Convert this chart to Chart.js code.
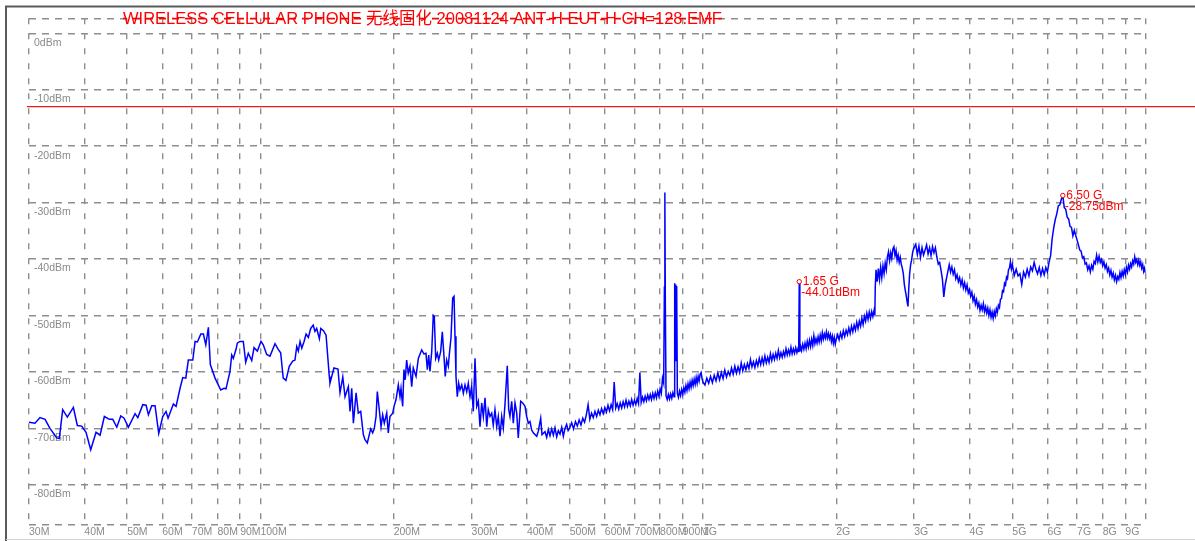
<!DOCTYPE html>
<html>
<head>
<meta charset="utf-8">
<title>EMF spectrum</title>
<script src="https://cdn.jsdelivr.net/npm/chart.js@4.4.1/dist/chart.umd.min.js"></script>
<style>
  html, body { margin: 0; padding: 0; background: #ffffff; }
  canvas { display: block; }
</style>
</head>
<body>
<canvas id="spectrum" width="1195" height="541"></canvas>
<script>
// ---- Header text -----------------------------------------------------------
const titleText = 'WIRELESS CELLULAR PHONE 无线固化 20081124 ANT-H EUT-H CH=128.EMF';

// ---- Axis ticks ------------------------------------------------------------
const freqTicksMHz = [30, 40, 50, 60, 70, 80, 90, 100, 200, 300, 400, 500, 600, 700, 800, 900,
                      1000, 2000, 3000, 4000, 5000, 6000, 7000, 8000, 9000, 10000];
const freqTickLabels = ['30M', '40M', '50M', '60M', '70M', '80M', '90M', '100M', '200M', '300M',
                        '400M', '500M', '600M', '700M', '800M', '900M', '1G', '2G', '3G', '4G',
                        '5G', '6G', '7G', '8G', '9G', ''];
const levelTicks = [0, -10, -20, -30, -40, -50, -60, -70, -80];
const levelTickLabels = ['0dBm', '-10dBm', '-20dBm', '-30dBm', '-40dBm', '-50dBm', '-60dBm', '-70dBm', '-80dBm'];
const levelTop = 2.65;
const levelBottom = -87;

// ---- Limit line ------------------------------------------------------------
const limitDbm = -13;

// ---- Markers ---------------------------------------------------------------
const markerFreqMHz = [1650, 6500];
const markerDbm = [-44.01, -28.75];
const markerFreqText = ['1.65 G', '6.50 G'];
const markerLevelText = ['-44.01dBm', '-28.75dBm'];

// ---- Measured trace (frequency in MHz, level in dBm) -----------------------
// 30 – 143 MHz
const segA_MHz = [30.0, 30.95, 31.77, 32.61, 33.46, 34.66, 35.12, 35.75, 36.62, 37.79,
  38.58, 39.47, 40.36, 41.36, 42.52, 43.42, 44.40, 45.57, 46.39, 47.37,
  48.36, 49.2, 50.31, 52.09, 52.84, 54.23, 55.17, 55.84, 56.82, 57.80,
  58.92, 60.16, 61.2, 61.85, 63.58, 64.48, 65.83, 66.77, 67.82, 68.74,
  70.34, 71.18, 72.04, 73.33, 74.33, 75.26, 76.28, 77.06, 78.97, 81.34,
  82.75, 83.62, 85.36, 86.13, 86.85, 88.07, 88.67, 89.92, 91.48, 92.63,
  93.9, 95.58, 96.73, 98.41, 100.3, 101.5, 103.3, 105.1, 107.9, 109.7,
  111.1, 112.6, 114.2, 116.2, 118.3, 119.7, 120.8, 121.8, 122.9, 124.0,
  125.5, 126.8, 128.3, 129.9, 131.6, 132.8, 134.0, 135.9, 136.9, 138.8,
  140.7, 143.1];
const segA_dBm = [-68.9, -69.1, -68.1, -68.4, -70.0, -71.7, -71.8, -66.7, -68.0, -66.3,
  -69.5, -69.6, -70.7, -73.8, -70.7, -71.2, -67.9, -68.4, -68.4, -69.8,
  -67.8, -68.2, -69.8, -67.4, -68.1, -65.8, -65.9, -67.6, -66.0, -66.0,
  -70.9, -67.9, -67.0, -68.2, -65.7, -66.1, -62.9, -61.0, -61.1, -57.9,
  -57.9, -54.6, -54.7, -53.3, -53.3, -55.2, -52.1, -58.7, -61.1, -63.2,
  -62.9, -63.0, -59.9, -57.0, -57.6, -56.0, -54.9, -54.6, -54.6, -58.3,
  -56.7, -58.0, -55.7, -56.3, -54.6, -55.2, -56.9, -57.2, -55.0, -56.0,
  -56.6, -61.1, -61.5, -59.0, -58.1, -57.9, -55.5, -56.3, -54.6, -55.8,
  -54.6, -53.3, -53.9, -52.3, -51.7, -52.8, -52.3, -54.1, -52.3, -52.7,
  -53.5, -60.8];

// 143 – 496 MHz
const segB_MHz = [143.6, 146.6, 149.7, 151.3, 153.5, 155.3, 158.0, 159.4, 160.8, 162.2,
  164.5, 166.4, 168.5, 170.8, 172.3, 174.4, 176.2, 177.5, 179.3, 180.8,
  182.5, 183.7, 185.6, 187.3, 188.9, 190.5, 192.9, 194.5, 196.2, 199.0,
  200.4, 202.5, 204.9, 206.7, 207.8, 209.6, 211.0, 212.4, 214.0, 215.8,
  217.7, 219.7, 221.5, 224.7, 227.4, 231.4, 234.2, 236.6, 238.3, 240.0,
  241.6, 243.8, 245.8, 247.1, 248.9, 251.0, 252.8, 255.4, 257.6, 259.9,
  261.6, 263.5, 265.8, 267.1, 269.5, 271.9, 273.8, 275.2, 276.6, 278.5,
  280.5, 282.4, 285.0, 287.4, 289.9, 292.5, 294.9, 297.5, 300.1, 302.7,
  305.4, 308.1, 310.7, 313.4, 316.2, 318.9, 321.7, 324.6, 327.2, 330.1,
  333.1, 335.8, 338.8, 341.9, 344.7, 347.8, 350.9, 353.8, 356.9, 361.2,
  363.9, 366.3, 369.6, 372.7, 376.0, 379.4, 382.5, 387.3, 391.4, 396.1,
  399.6, 403.0, 406.5, 410.1, 413.6, 421.0, 424.5, 429.8, 432.7, 439.5,
  443.4, 447.2, 451.1, 455.1, 459.0, 463.0, 467.1, 471.1, 475.2, 479.5,
  483.5, 487.7, 491.9, 495.8];
const segB_dBm = [-62.0, -59.3, -59.5, -63.7, -60.9, -64.4, -62.6, -67.0, -62.9, -69.1,
  -63.7, -67.3, -67.0, -71.1, -72.0, -72.6, -71.1, -70.1, -70.8, -70.1,
  -67.9, -63.5, -66.7, -69.7, -67.6, -69.1, -67.3, -70.8, -67.9, -67.3,
  -66.1, -64.9, -62.3, -64.4, -62.9, -66.1, -59.6, -61.4, -57.9, -60.2,
  -59.0, -62.6, -59.3, -60.8, -57.6, -56.1, -56.8, -56.7, -59.6, -57.0,
  -59.9, -56.4, -50.0, -50.2, -57.6, -56.7, -57.9, -56.4, -52.9, -57.3,
  -60.8, -57.9, -59.0, -57.0, -54.0, -46.9, -46.6, -53.7, -60.8, -64.4,
  -62.0, -63.2, -62.3, -63.8, -62.3, -63.5, -62.0, -64.4, -62.6, -67.0,
  -57.6, -66.1, -65.2, -69.7, -65.5, -67.9, -64.6, -69.7, -66.7, -67.9,
  -67.3, -69.4, -66.7, -69.7, -67.9, -71.4, -67.9, -69.9, -65.8, -58.9,
  -66.7, -67.9, -65.2, -69.1, -65.5, -67.3, -71.7, -65.2, -65.5, -66.1,
  -67.9, -69.1, -68.8, -70.3, -70.8, -71.4, -70.5, -68.2, -71.1, -70.6,
  -71.6, -70.2, -71.3, -70.1, -71.2, -69.9, -71.5, -70.4, -71.0, -69.8,
  -71.4, -70.0, -69.3, -70.4];

// 500 MHz – 1 GHz (carrier at 820 MHz, second line near 870 MHz)
const segC_MHz = [500, 505, 510, 515, 520, 525, 530, 535, 540, 545,
  550, 555, 560, 565, 570, 575, 580, 585, 590, 595,
  600, 605, 610, 615, 620, 625, 630, 635, 640, 645,
  650, 655, 660, 665, 670, 675, 680, 685, 690, 695,
  700, 705, 710, 715, 720, 725, 730, 735, 740, 745,
  750, 755, 760, 765, 770, 775, 780, 785, 790, 795,
  800, 805, 810, 815, 818, 820, 822, 825, 830, 835,
  840, 845, 850, 855, 860, 862, 864, 866, 868, 870,
  872, 875, 880, 885, 890, 895, 900, 905, 910, 915,
  920, 925, 930, 935, 940, 945, 950, 955, 960, 965,
  970, 975, 980, 985, 990, 995, 1000];
const segC_dBm = [-69.9, -69.0, -70.1, -68.8, -69.6, -68.5, -69.4, -68.2, -68.9, -67.6,
  -65.8, -68.4, -67.3, -68.1, -67.0, -67.9, -66.8, -67.6, -66.5, -67.4,
  -66.3, -67.1, -65.9, -66.9, -65.8, -66.7, -61.8, -66.4, -65.6, -66.6,
  -65.5, -66.4, -65.3, -66.2, -65.0, -66.1, -65.2, -66.0, -64.9, -65.9,
  -65.0, -65.8, -64.7, -65.6, -60.1, -65.4, -64.5, -65.3, -64.3, -65.1,
  -64.1, -64.9, -64.0, -64.9, -63.8, -64.7, -63.7, -64.6, -63.4, -64.3,
  -63.0, -63.8, -61.1, -62.0, -45.0, -28.2, -48.0, -64.2, -64.9, -64.0,
  -64.8, -63.9, -64.7, -63.7, -64.4, -63.6, -44.3, -58.0, -44.5, -57.0,
  -44.8, -63.8, -64.5, -63.4, -64.2, -63.1, -63.9, -62.8, -63.6, -62.4,
  -63.3, -62.1, -63.0, -61.8, -62.7, -61.5, -62.4, -61.3, -62.2, -61.0,
  -62.0, -60.8, -61.6, -60.4, -60.1, -61.2, -61.8];

// 1 – 2 GHz
const segD_MHz = [1010, 1020, 1030, 1040, 1050, 1060, 1070, 1080, 1090, 1100,
  1110, 1120, 1130, 1140, 1150, 1160, 1170, 1180, 1190, 1200,
  1210, 1220, 1230, 1240, 1250, 1260, 1270, 1280, 1290, 1300,
  1310, 1320, 1330, 1340, 1350, 1360, 1370, 1380, 1390, 1400,
  1410, 1420, 1430, 1440, 1450, 1460, 1470, 1480, 1490, 1500,
  1510, 1520, 1530, 1540, 1550, 1560, 1570, 1580, 1590, 1600,
  1610, 1620, 1630, 1640, 1645, 1650, 1655, 1660, 1670, 1680,
  1690, 1700, 1710, 1720, 1730, 1740, 1750, 1760, 1770, 1780,
  1790, 1800, 1810, 1820, 1830, 1840, 1850, 1860, 1870, 1880,
  1890, 1900, 1910, 1920, 1930, 1940, 1950, 1960, 1970, 1980,
  1990, 2000];
const segD_dBm = [-62.3, -61.1, -62.0, -60.8, -61.9, -60.6, -61.6, -60.2, -61.4, -60.1,
  -61.2, -59.7, -60.9, -59.9, -60.6, -59.3, -60.4, -59.0, -60.2, -59.1,
  -60.1, -58.4, -59.8, -58.7, -59.6, -58.5, -59.4, -57.8, -59.1, -58.2,
  -59.2, -58.0, -58.9, -57.6, -58.7, -57.5, -58.6, -57.2, -58.4, -57.4,
  -58.3, -56.8, -58.0, -56.9, -57.8, -56.7, -57.6, -56.2, -57.5, -56.6,
  -57.4, -56.4, -57.2, -55.9, -57.0, -56.1, -56.9, -55.6, -56.8, -55.9,
  -56.7, -55.7, -56.6, -55.8, -56.5, -44.01, -56.4, -55.3, -56.2, -55.1,
  -56.0, -54.9, -55.9, -54.6, -55.6, -54.4, -55.5, -54.2, -55.3, -53.6,
  -55.0, -54.1, -54.9, -53.8, -54.7, -53.5, -54.5, -53.1, -54.2, -53.3,
  -54.0, -52.9, -54.0, -53.2, -54.1, -53.4, -54.6, -53.7, -54.9, -53.9,
  -55.1, -54.2];

// 2 – 3 GHz
const segE_MHz = [2015, 2030, 2045, 2060, 2075, 2090, 2105, 2120, 2135, 2150,
  2165, 2180, 2195, 2210, 2225, 2240, 2255, 2270, 2285, 2300,
  2315, 2330, 2345, 2360, 2375, 2390, 2405, 2420, 2435, 2445,
  2450, 2460, 2475, 2490, 2505, 2520, 2535, 2550, 2565, 2580,
  2595, 2610, 2625, 2640, 2655, 2670, 2685, 2700, 2715, 2730,
  2745, 2760, 2775, 2790, 2805, 2820, 2835, 2850, 2865, 2880,
  2895, 2905, 2915, 2930, 2945, 2960, 2975, 2990];
const segE_dBm = [-53.4, -54.3, -53.1, -54.0, -52.7, -53.7, -52.6, -53.4, -52.2, -53.2,
  -51.9, -52.9, -51.7, -52.6, -51.2, -52.3, -51.0, -51.9, -50.5, -51.6,
  -50.1, -51.0, -49.6, -50.7, -49.4, -50.5, -49.3, -50.2, -49.1, -49.9,
  -45.0, -41.9, -44.0, -41.7, -43.6, -41.5, -43.3, -41.2, -42.6, -40.7,
  -41.9, -39.6, -38.7, -40.3, -38.9, -39.9, -38.2, -37.8, -39.4, -38.5,
  -40.2, -39.3, -40.6, -39.7, -40.9, -41.6, -42.6, -44.5, -45.6, -46.6,
  -47.8, -48.4, -45.6, -42.6, -41.0, -40.2, -38.9, -38.2];

// 3 – 5 GHz
const segF_MHz = [3000, 3025, 3050, 3075, 3100, 3125, 3150, 3175, 3200, 3225,
  3250, 3275, 3300, 3325, 3350, 3375, 3400, 3425, 3450, 3475,
  3500, 3525, 3550, 3575, 3600, 3625, 3650, 3675, 3700, 3725,
  3750, 3775, 3800, 3825, 3850, 3875, 3900, 3925, 3950, 3975,
  4000, 4025, 4050, 4075, 4100, 4125, 4150, 4175, 4200, 4225,
  4250, 4275, 4300, 4325, 4350, 4375, 4400, 4425, 4450, 4475,
  4500, 4525, 4550, 4575, 4600, 4625, 4650, 4675, 4700, 4725,
  4750, 4775, 4800, 4825, 4850, 4875, 4900, 4925, 4950, 4975,
  5000];
const segF_dBm = [-38.0, -37.4, -39.2, -37.7, -39.7, -38.0, -39.3, -38.4, -37.5, -39.1,
  -38.0, -39.4, -37.8, -38.9, -38.0, -39.6, -40.9, -40.6, -42.0, -43.6,
  -46.7, -44.6, -43.4, -42.2, -41.0, -42.3, -41.4, -42.7, -41.9, -43.5,
  -42.8, -44.0, -43.3, -44.6, -43.7, -45.1, -44.2, -45.5, -44.6, -46.0,
  -45.4, -46.6, -45.9, -47.4, -46.6, -48.0, -47.2, -48.5, -47.8, -49.1,
  -48.2, -49.0, -47.9, -49.3, -48.5, -49.6, -48.7, -50.0, -49.0, -50.3,
  -49.4, -50.5, -49.3, -50.1, -48.8, -49.4, -48.2, -48.6, -47.1, -47.0,
  -45.6, -45.8, -44.3, -44.6, -43.2, -43.5, -41.9, -41.6, -40.5, -41.8,
  -41.0];

// 5 – 10 GHz
const segG_MHz = [5050, 5100, 5150, 5200, 5250, 5300, 5350, 5400, 5450, 5500,
  5550, 5600, 5650, 5700, 5750, 5800, 5850, 5900, 5950, 6000,
  6050, 6100, 6150, 6200, 6250, 6300, 6350, 6400, 6450, 6500,
  6550, 6600, 6650, 6700, 6750, 6800, 6850, 6900, 6950, 7000,
  7050, 7100, 7150, 7200, 7250, 7300, 7350, 7400, 7450, 7500,
  7550, 7600, 7650, 7700, 7750, 7800, 7850, 7900, 7950, 8000,
  8050, 8100, 8150, 8200, 8250, 8300, 8350, 8400, 8450, 8500,
  8550, 8600, 8650, 8700, 8750, 8800, 8850, 8900, 8950, 9000,
  9050, 9100, 9150, 9200, 9250, 9300, 9350, 9400, 9450, 9500,
  9550, 9600, 9650, 9700, 9750, 9800, 9850, 9900, 9950, 10000];
const segG_dBm = [-42.9, -41.8, -43.0, -42.6, -44.5, -42.3, -43.2, -41.8, -43.0, -41.4,
  -42.1, -40.6, -41.8, -42.6, -41.5, -42.9, -41.7, -42.8, -41.5, -42.3,
  -40.6, -39.4, -36.4, -34.5, -33.0, -32.0, -30.6, -30.4, -29.4, -28.75,
  -30.9, -31.2, -32.6, -32.9, -34.2, -34.4, -35.9, -34.9, -35.8, -36.6,
  -37.5, -38.4, -38.6, -39.8, -39.6, -40.9, -40.7, -41.9, -41.2, -42.3,
  -41.1, -41.8, -40.4, -40.8, -39.3, -40.5, -39.5, -40.6, -40.1, -41.2,
  -40.5, -41.6, -41.0, -42.2, -41.6, -42.8, -42.0, -43.2, -42.5, -43.7,
  -42.9, -44.0, -43.1, -43.6, -42.4, -43.3, -42.2, -43.0, -41.9, -42.7,
  -41.5, -42.3, -41.1, -41.8, -40.8, -41.4, -40.3, -40.9, -39.6, -40.6,
  -40.1, -41.0, -40.2, -41.1, -40.5, -41.6, -41.0, -42.2, -41.6, -42.5];

// ---- Build chart data ------------------------------------------------------
const segments = [
  [segA_MHz, segA_dBm], [segB_MHz, segB_dBm], [segC_MHz, segC_dBm], [segD_MHz, segD_dBm],
  [segE_MHz, segE_dBm], [segF_MHz, segF_dBm], [segG_MHz, segG_dBm]
];
const tracePoints = [];
segments.forEach(([freqs, levels]) => {
  freqs.forEach((f, i) => tracePoints.push({ x: f, y: levels[i] }));
});
const markerPoints = markerFreqMHz.map((f, i) => ({ x: f, y: markerDbm[i] }));

const FONT = '"Liberation Sans", Arial, Helvetica, sans-serif';
const GRID_COLOR = '#8e8e8e';

// White page, dark frame on the left/top, light rule at the bottom
const framePlugin = {
  id: 'frame',
  beforeDraw(chart) {
    const { ctx, width } = chart;
    ctx.save();
    ctx.fillStyle = '#ffffff';
    ctx.fillRect(0, 0, chart.width, chart.height);
    ctx.strokeStyle = '#5a5a5a';
    ctx.lineWidth = 2;
    ctx.beginPath();
    ctx.moveTo(6, chart.height);
    ctx.lineTo(6, 6.5);
    ctx.lineTo(width, 6.5);
    ctx.stroke();
    ctx.strokeStyle = '#d2d2d2';
    ctx.lineWidth = 1;
    ctx.beginPath();
    ctx.moveTo(6, 539.5);
    ctx.lineTo(width, 539.5);
    ctx.stroke();
    ctx.restore();
  }
};

// Limit line, marker read-outs and the file title
const overlayPlugin = {
  id: 'overlay',
  afterDatasetsDraw(chart) {
    const { ctx, chartArea, scales } = chart;
    const yScale = scales.y;
    ctx.save();
    ctx.setLineDash([]);

    const yl = yScale.getPixelForValue(limitDbm);
    ctx.strokeStyle = '#e81c1c';
    ctx.lineWidth = 1.3;
    ctx.beginPath();
    ctx.moveTo(chartArea.left - 2, yl);
    ctx.lineTo(chart.width, yl);
    ctx.stroke();

    const meta = chart.getDatasetMeta(1);
    ctx.font = '12px ' + FONT;
    ctx.fillStyle = '#ff0000';
    ctx.textAlign = 'left';
    ctx.textBaseline = 'middle';
    meta.data.forEach((pt, i) => {
      ctx.fillText(markerFreqText[i], pt.x + 3.5, pt.y);
      ctx.fillText(markerLevelText[i], pt.x + 2, pt.y + 11.5);
    });

    ctx.font = '16.5px ' + FONT + ', "Noto Sans CJK SC"';
    ctx.textBaseline = 'alphabetic';
    const tx = 123, ty = 24;
    ctx.fillText(titleText, tx, ty);
    const tw = ctx.measureText(titleText).width;
    // the top rule runs through the title in the title colour
    ctx.beginPath();
    ctx.rect(tx, chartArea.top - 4, tw, 8);
    ctx.clip();
    ctx.strokeStyle = '#ff0000';
    ctx.lineWidth = 1.5;
    ctx.setLineDash([7, 6]);
    ctx.beginPath();
    ctx.moveTo(chartArea.left, Math.round(chartArea.top) + 0.5);
    ctx.lineTo(chartArea.right, Math.round(chartArea.top) + 0.5);
    ctx.stroke();
    ctx.restore();
  }
};

new Chart(document.getElementById('spectrum'), {
  type: 'line',
  data: {
    datasets: [
      {
        data: tracePoints,
        borderColor: '#0000ff',
        borderWidth: 1.5,
        pointRadius: 0,
        tension: 0,
        fill: false,
        order: 2
      },
      {
        data: markerPoints,
        showLine: false,
        pointRadius: 2.2,
        pointStyle: 'circle',
        pointBorderColor: '#ff0000',
        pointBackgroundColor: '#ffffff',
        pointBorderWidth: 1,
        order: 1
      }
    ]
  },
  options: {
    responsive: false,
    devicePixelRatio: 1,
    animation: false,
    events: [],
    parsing: false,
    layout: { padding: { left: 29, right: 49.4, top: 18.3, bottom: 0.7 } },
    plugins: { legend: { display: false }, tooltip: { enabled: false }, title: { display: false } },
    scales: {
      x: {
        type: 'logarithmic',
        min: 30,
        max: 10000,
        afterBuildTicks: (scale) => { scale.ticks = freqTicksMHz.map(v => ({ value: v })); },
        afterFit: (scale) => { scale.height = 16; },
        ticks: {
          autoSkip: false,
          maxRotation: 0,
          minRotation: 0,
          align: 'start',
          padding: 2,
          color: '#8a8a8a',
          font: { family: FONT, size: 10.5 },
          callback: (value, index) => freqTickLabels[index]
        },
        grid: { color: GRID_COLOR, lineWidth: 1.4, drawTicks: false },
        border: { display: false, dash: [6, 9] }
      },
      y: {
        type: 'linear',
        min: levelBottom,
        max: levelTop,
        afterBuildTicks: (scale) => {
          scale.ticks = [levelBottom, ...levelTicks.slice().reverse(), levelTop].map(v => ({ value: v }));
        },
        afterFit: (scale) => { scale.width = 0; },
        ticks: {
          mirror: true,
          padding: 5,
          labelOffset: 9.5,
          color: '#8a8a8a',
          font: { family: FONT, size: 10.5 },
          callback: (value) => {
            const i = levelTicks.indexOf(value);
            return i >= 0 ? levelTickLabels[i] : '';
          }
        },
        grid: { color: GRID_COLOR, lineWidth: 1.4, drawTicks: false },
        border: { display: false, dash: [7, 6] }
      }
    }
  },
  plugins: [framePlugin, overlayPlugin]
});
</script>
</body>
</html>
